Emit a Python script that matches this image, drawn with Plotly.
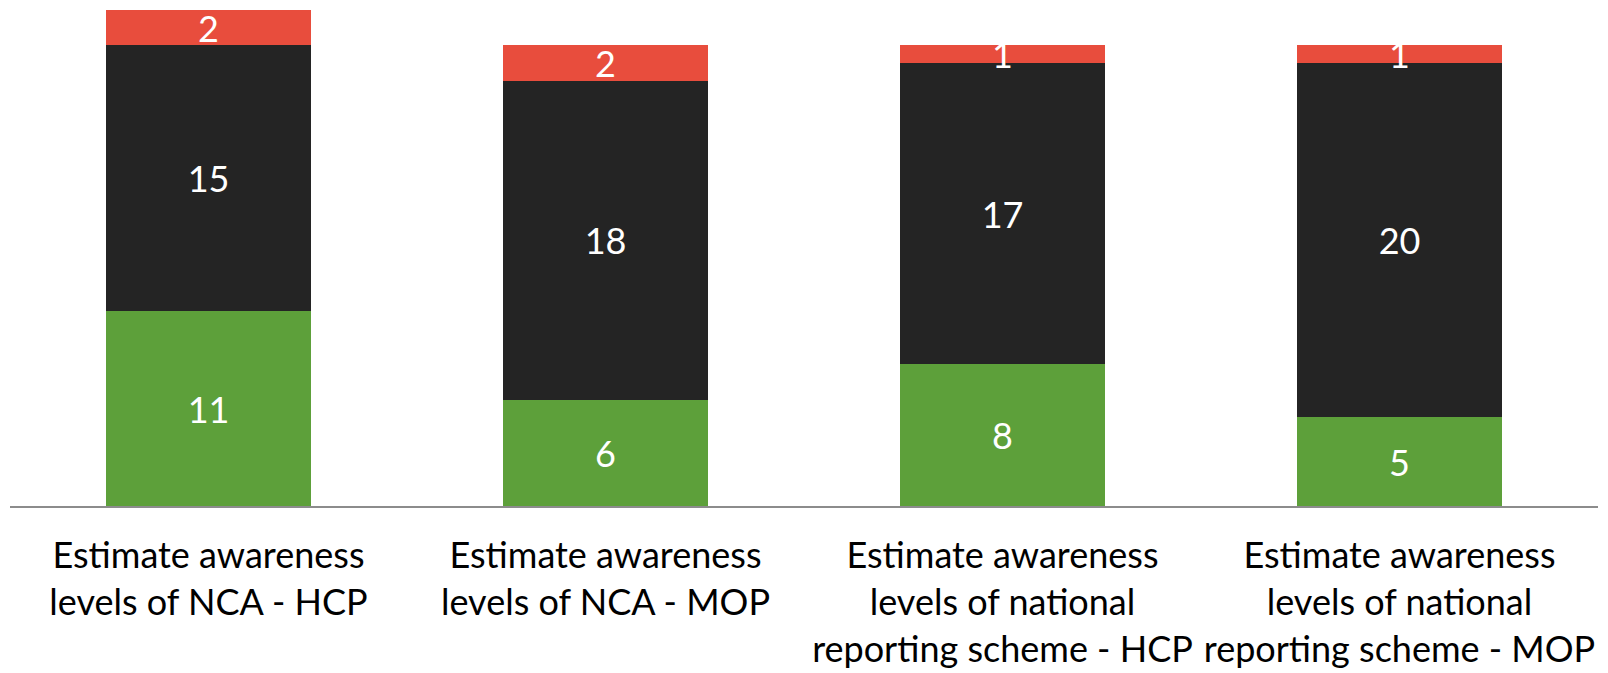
import plotly.graph_objects as go

categories = [
    "Estimate awareness<br>levels of NCA - HCP",
    "Estimate awareness<br>levels of NCA - MOP",
    "Estimate awareness<br>levels of national<br>reporting scheme - HCP",
    "Estimate awareness<br>levels of national<br>reporting scheme - MOP",
]
green_vals = [11, 6, 8, 5]
black_vals = [15, 18, 17, 20]
red_vals = [2, 2, 1, 1]

series = [
    ("Green", green_vals, "#5DA03A"),
    ("Black", black_vals, "#242424"),
    ("Red", red_vals, "#E84D3D"),
]

fig = go.Figure()
for name, vals, color in series:
    fig.add_trace(go.Bar(
        x=categories, y=vals, name=name,
        marker=dict(color=color, line=dict(width=0)),
        text=[str(v) for v in vals],
        textposition="inside",
        insidetextanchor="middle",
        textangle=0,
        constraintext="none",
        textfont=dict(family="Lato", size=36, color="white"),
        cliponaxis=False,
    ))

fig.update_layout(
    barmode="stack",
    width=1600, height=665,
    margin=dict(l=2, r=10, t=2, b=167),
    bargap=0.486,
    showlegend=False,
    plot_bgcolor="white",
    paper_bgcolor="white",
    xaxis=dict(
        showline=True, linecolor="#8C8C8C", linewidth=1.5,
        tickfont=dict(family="Lato", size=36, color="black"),
        ticks="", showgrid=False, automargin=False,
        tickangle=0,
        ticklabelstandoff=17,
    ),
    yaxis=dict(range=[0, 28], visible=False, showgrid=False, zeroline=False),
)

fig.write_html("out.html")
